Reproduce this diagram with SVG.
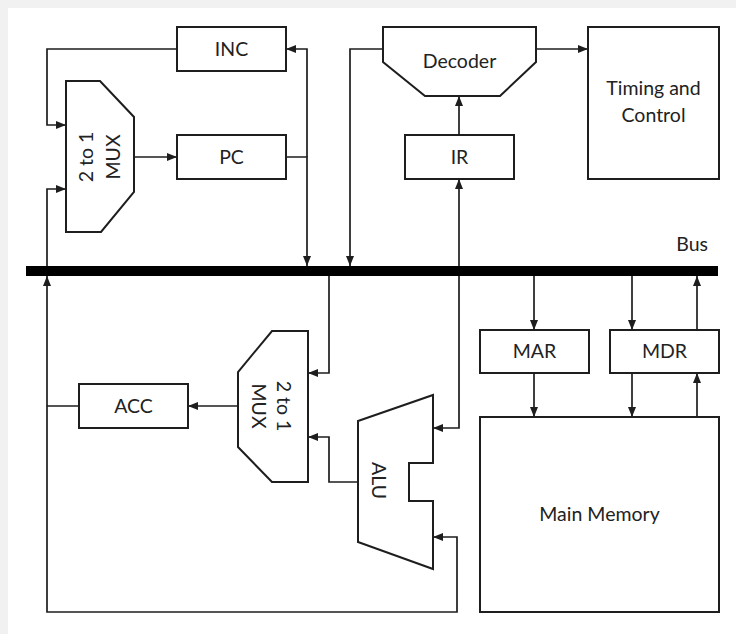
<svg xmlns="http://www.w3.org/2000/svg" width="736" height="634" viewBox="0 0 736 634">
<style>
.shape{fill:#fff;stroke:#1e1e1e;stroke-width:2}
.conn{fill:none;stroke:#1e1e1e;stroke-width:1.7}
.lbl{font-family:Lato,"Open Sans","Liberation Sans",sans-serif;font-size:19.5px;fill:#222;text-anchor:middle}
</style>
<defs>
<marker id="arr" markerUnits="userSpaceOnUse" markerWidth="10" markerHeight="10" viewBox="0 0 10 10" refX="10" refY="5" orient="auto">
<path d="M0,1 L10,5 L0,9 Z" fill="#1e1e1e"/>
</marker>
</defs>
<rect x="0" y="0" width="736" height="634" fill="#f1f1f1"/>
<rect x="8" y="8" width="728" height="626" fill="#fff"/>

<g id="connectors">
<path class="conn" d="M177,49 H47 V125 H66" marker-end="url(#arr)"/>
<path class="conn" d="M286,157 H307 V266" marker-end="url(#arr)"/>
<path class="conn" d="M307,157 V49 H286" marker-end="url(#arr)"/>
<path class="conn" d="M134,157 H177" marker-end="url(#arr)"/>
<path class="conn" d="M383,49 H350 V266" marker-end="url(#arr)"/>
<path class="conn" d="M536,49 H588" marker-end="url(#arr)"/>
<path class="conn" d="M459,135 V96" marker-end="url(#arr)"/>
<path class="conn" d="M459,276 V179" marker-end="url(#arr)"/>
<path class="conn" d="M459,276 V428 H433" marker-end="url(#arr)"/>
<path class="conn" d="M79,406 H47 V612 H457 V537 H433" marker-end="url(#arr)"/>
<path class="conn" d="M47,406 V276" marker-end="url(#arr)"/>
<path class="conn" d="M47,266 V189 H66" marker-end="url(#arr)"/>
<path class="conn" d="M329,276 V373 H308" marker-end="url(#arr)"/>
<path class="conn" d="M358,482 H329 V437 H308" marker-end="url(#arr)"/>
<path class="conn" d="M238,406 H188" marker-end="url(#arr)"/>
<path class="conn" d="M534,276 V330" marker-end="url(#arr)"/>
<path class="conn" d="M534,373 V417" marker-end="url(#arr)"/>
<path class="conn" d="M632,276 V330" marker-end="url(#arr)"/>
<path class="conn" d="M632,373 V417" marker-end="url(#arr)"/>
<path class="conn" d="M697,330 V276" marker-end="url(#arr)"/>
<path class="conn" d="M697,417 V373" marker-end="url(#arr)"/>
</g>

<g id="bus">
<rect x="26" y="266" width="692" height="10" fill="#000"/>
<text class="lbl" x="708" y="251" style="text-anchor:end">Bus</text>
</g>

<g id="inc">
<rect class="shape" x="177" y="27" width="109" height="44"/>
<text class="lbl" x="231.5" y="55.5">INC</text>
</g>

<g id="pc">
<rect class="shape" x="177" y="135" width="109" height="44"/>
<text class="lbl" x="231.5" y="163.5">PC</text>
</g>

<g id="mux1">
<polygon class="shape" points="66,81 100,81 134,117 134,192 101,232 66,232"/>
<text class="lbl" transform="translate(93,157) rotate(-90)">2 to 1</text>
<text class="lbl" transform="translate(120,157) rotate(-90)">MUX</text>
</g>

<g id="decoder">
<polygon class="shape" points="383,27 536,27 536,62 500,96 425,96 383,62"/>
<text class="lbl" x="459.5" y="68">Decoder</text>
</g>

<g id="timing">
<rect class="shape" x="588" y="27" width="131" height="152"/>
<text class="lbl" x="653.5" y="95">Timing and</text>
<text class="lbl" x="653.5" y="121.5">Control</text>
</g>

<g id="ir">
<rect class="shape" x="405" y="135" width="109" height="44"/>
<text class="lbl" x="459.5" y="163.5">IR</text>
</g>

<g id="mux2">
<polygon class="shape" points="308,331 272,331 238,372 238,447 272,482 308,482"/>
<text class="lbl" transform="translate(277,406) rotate(90)">2 to 1</text>
<text class="lbl" transform="translate(252,406) rotate(90)">MUX</text>
</g>

<g id="acc">
<rect class="shape" x="79" y="384" width="109" height="44"/>
<text class="lbl" x="133.5" y="412.5">ACC</text>
</g>

<g id="alu">
<polygon class="shape" points="358,421 433,395 433,463 409,463 409,501 433,501 433,569 358,542"/>
<text class="lbl" transform="translate(372,480.5) rotate(90)">ALU</text>
</g>

<g id="mar">
<rect class="shape" x="480" y="330" width="109" height="43"/>
<text class="lbl" x="534.5" y="358">MAR</text>
</g>

<g id="mdr">
<rect class="shape" x="610" y="330" width="109" height="43"/>
<text class="lbl" x="664.5" y="358">MDR</text>
</g>

<g id="memory">
<rect class="shape" x="480" y="417" width="239" height="195"/>
<text class="lbl" x="599.5" y="520.5">Main Memory</text>
</g>
</svg>
